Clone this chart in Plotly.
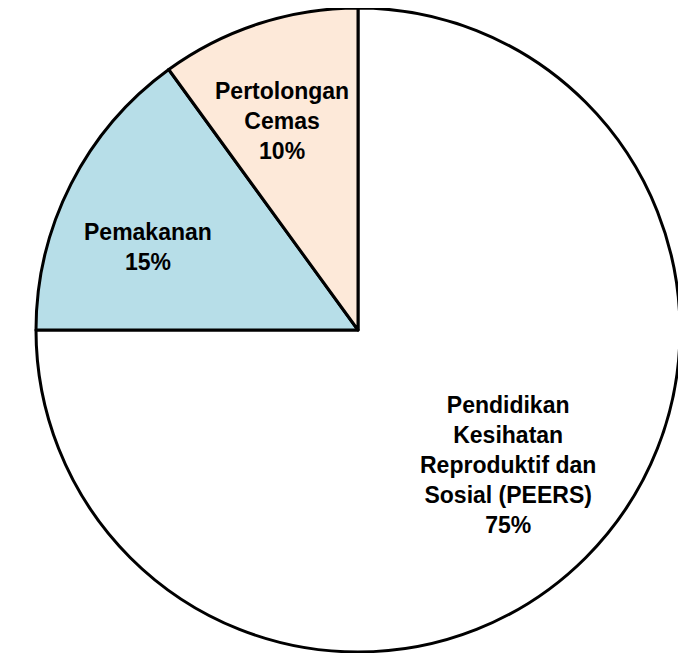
import plotly.graph_objects as go

labels = ["Pendidikan Kesihatan Reproduktif dan Sosial (PEERS)", "Pemakanan", "Pertolongan Cemas"]
label_lines = [
    ["Pendidikan", "Kesihatan", "Reproduktif dan", "Sosial (PEERS)"],
    ["Pemakanan"],
    ["Pertolongan", "Cemas"],
]
values = [75, 15, 10]
colors = ["#FFFFFF", "#B7DEE8", "#FDE9D9"]

W, H = 686, 653
OFF = 8  # page body margin
cx, cy, r = 358 - OFF, 330 - OFF, 322

fig = go.Figure(go.Pie(
    labels=labels,
    values=values,
    sort=False,
    direction="clockwise",
    rotation=0,
    marker=dict(colors=colors, line=dict(color="#000000", width=3)),
    textinfo="none",
    hoverinfo="label+percent",
    showlegend=False,
    domain=dict(x=[max(0, (cx - r) / W), min(1, (cx + r) / W)],
                y=[max(0, 1 - (cy + r) / H), min(1, 1 - (cy - r) / H)]),
))

# label centres (pixel space of the picture)
label_pos = [(508, 465), (148, 247), (282, 121)]
total = sum(values)
for lines, v, (px, py) in zip(label_lines, values, label_pos):
    txt = "<br>".join(lines + [f"{round(100 * v / total)}%"])
    fig.add_annotation(
        x=(px - OFF) / W, y=1 - (py - OFF) / H, xref="paper", yref="paper",
        text=f"<b>{txt}</b>", showarrow=False,
        font=dict(family="Liberation Sans, Arial", size=23, color="#000000"),
        align="center", xanchor="center", yanchor="middle",
    )

fig.update_layout(
    width=W, height=H,
    margin=dict(l=0, r=0, t=0, b=0),
    paper_bgcolor="#FFFFFF", plot_bgcolor="#FFFFFF",
)

fig.write_html("out.html")
